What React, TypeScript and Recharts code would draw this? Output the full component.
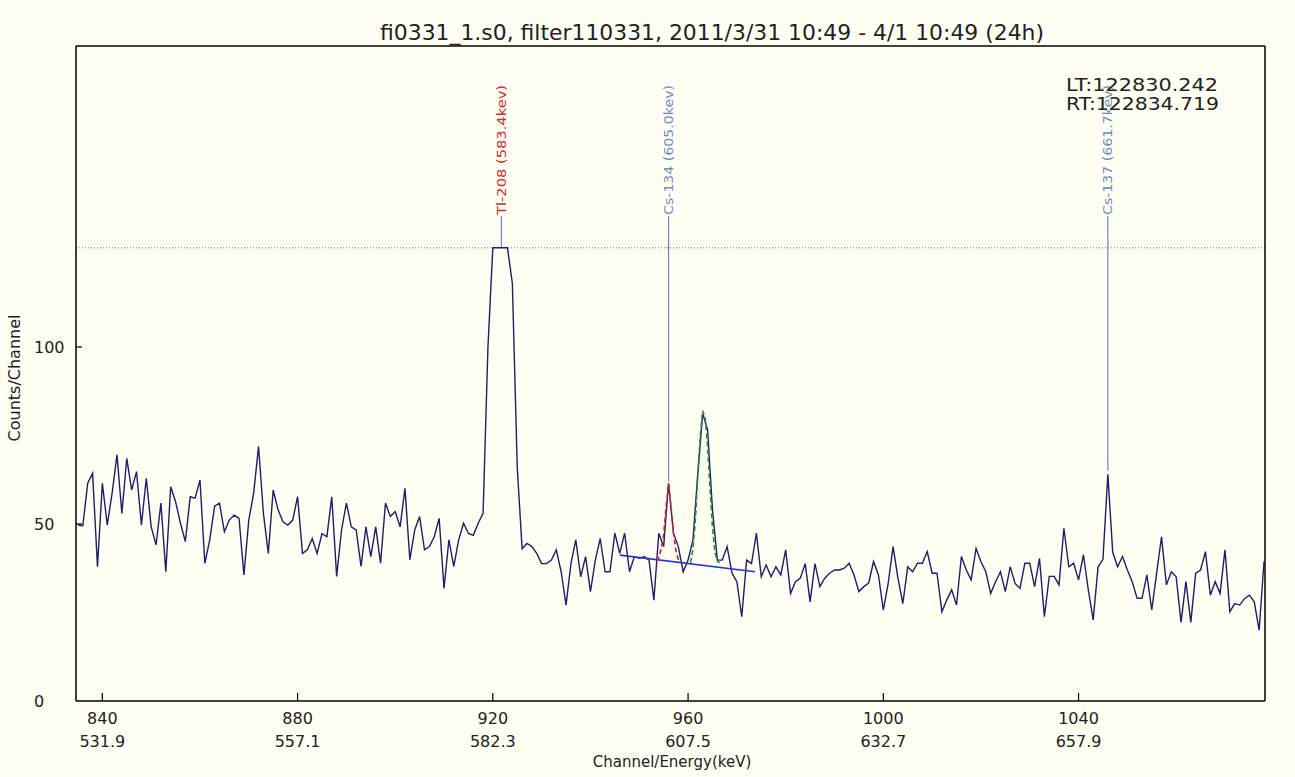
import { LineChart, Line, XAxis, YAxis, ReferenceLine, ReferenceDot } from 'recharts'

// spectrum counts per channel, starting at channel 835
const startChannel = 835
const counts = [
  49.7, 49.5, 61.5, 64.3, 37.9, 61.5, 49.7, 58.7, 69.5, 53.0,
  68.5, 59.6, 64.8, 49.7, 62.9, 49.2, 44.1, 55.9, 36.5, 60.5,
  56.3, 50.2, 45.0, 57.7, 57.3, 62.4, 38.9, 45.5, 55.0, 55.9,
  47.8, 51.1, 52.5, 51.6, 35.6, 51.1, 58.7, 71.9, 53.0, 41.7,
  59.6, 54.0, 50.6, 49.7, 51.1, 57.7, 41.7, 42.7, 45.9, 41.7,
  47.3, 46.4, 57.7, 35.2, 48.3, 55.9, 49.2, 48.3, 38.0, 49.2,
  40.8, 49.2, 38.9, 55.9, 52.1, 53.5, 49.2, 60.1, 39.9, 48.3,
  52.1, 42.7, 43.6, 46.4, 51.6, 31.8, 45.5, 38.0, 45.5, 50.2,
  47.3, 46.8, 50.2, 53.0, 100, 128, 128, 128, 128, 118,
  66, 43, 44.5, 43.6, 41.7, 38.8, 38.8, 39.8, 42.7, 36.5,
  27.1, 38.8, 45.5, 35.1, 40.8, 30.9, 39.8, 45.9, 36.5, 36.5,
  47.4, 41.7, 47.4, 36.5, 40.8, 40.3, 40.8, 39.8, 28.5, 47.4,
  43.6, 61.5, 47.4, 43.6, 36.5, 39.8, 45.5, 64.3, 81.2, 76.6,
  54.0, 39.8, 39.8, 43.6, 36.1, 33.7, 23.8, 39.8, 38.8, 47.4,
  35.1, 38.4, 35.1, 37.9, 35.6, 42.7, 30.4, 33.7, 34.7, 38.8,
  28.0, 38.8, 32.3, 34.7, 36.1, 37.0, 37.0, 37.5, 38.9, 35.6,
  30.9, 32.3, 33.3, 39.4, 35.6, 25.7, 33.2, 43.6, 34.7, 27.5,
  37.9, 36.5, 38.9, 38.9, 42.2, 36.1, 36.1, 25.2, 28.5, 31.4,
  27.1, 40.8, 37.0, 34.2, 43.1, 39.4, 36.5, 30.4, 33.7, 36.5,
  30.9, 37.9, 33.2, 31.8, 38.9, 38.9, 32.3, 40.3, 23.8, 35.2,
  35.2, 32.8, 48.8, 37.9, 38.9, 34.2, 41.3, 31.4, 22.9, 37.9,
  40.0, 64.0, 42.0, 37.9, 40.8, 37.0, 33.7, 29.0, 29.0, 35.6,
  25.7, 36.1, 46.4, 32.8, 36.5, 35.1, 22.2, 33.7, 22.2, 36.1,
  37.0, 42.2, 29.9, 33.7, 30.4, 42.7, 25.2, 27.5, 27.1, 28.9,
  29.9, 28.0, 20.0, 39.4,
]

// fitted peaks + peak baseline
const redFitChannels = [953.5, 954, 954.5, 955, 955.5, 956, 956.5, 957, 957.5, 958, 958.5]
const redFitCounts = [39.5, 40.5, 43, 47, 55, 61.5, 55, 47.5, 42.5, 40, 39.2]
const greenFitChannels = [960.5, 961, 961.5, 962, 962.5, 963, 963.5, 964, 964.5, 965, 965.5, 966, 966.5]
const greenFitCounts = [39, 43, 51, 64, 75, 82, 80, 72, 60, 49, 42, 39.5, 39]
const baselineChannels = [946, 973.7]
const baselineCounts = [41.2, 36.5]

// nuclide markers
const markerNames = ['Tl-208 (583.4kev)', 'Cs-134 (605.0kev)', 'Cs-137 (661.7kev)']
const markerChannels = [921.75, 956.0, 1046.0]
const markerPeaks = [128, 62, 65]
const markerColors = ['#d42a2a', '#6b8cc4', '#6b8cc4']
const markerTop = 137

const xTicks = [840, 880, 920, 960, 1000, 1040]
const xTickEnergies = ['531.9', '557.1', '582.3', '607.5', '632.7', '657.9']
const yTicks = [0, 50, 100]
const clipLevel = 128

const spectrum = counts.map((c, i) => ({ ch: startChannel + i, counts: c }))
const redFit = redFitChannels.map((ch, i) => ({ ch, counts: redFitCounts[i] }))
const greenFit = greenFitChannels.map((ch, i) => ({ ch, counts: greenFitCounts[i] }))
const baseline = baselineChannels.map((ch, i) => ({ ch, counts: baselineCounts[i] }))

const ink = '#222'

const BottomTick = ({ x, y, payload }: any) => {
  const i = xTicks.indexOf(payload.value)
  return (
    <g>
      <line x1={x} x2={x} y1={y} y2={y - 8} stroke="#000" strokeWidth={1.2} />
      <text x={x} y={y + 23} textAnchor="middle" fontSize={16} fill={ink}>{payload.value}</text>
      <text x={x} y={y + 46} textAnchor="middle" fontSize={16} fill={ink}>{xTickEnergies[i]}</text>
    </g>
  )
}

const LeftTick = ({ x, y, payload }: any) => (
  <g>
    {payload.value > 0 && <line x1={x} x2={x + 6} y1={y} y2={y} stroke="#000" strokeWidth={1.2} />}
    <text x={34} y={y + 6} textAnchor="start" fontSize={16} fill={ink}>{payload.value}</text>
  </g>
)

const RightTick = ({ x, y }: any) => (
  <line x1={x - 6} x2={x + 5} y1={y} y2={y} stroke="#000" strokeWidth={1.2} />
)

const markerLabel = (i: number) => (props: any) => (
  <text
    x={props.cx}
    y={props.cy - 1}
    transform={`rotate(-90, ${props.cx}, ${props.cy - 1})`}
    dy="0.35em"
    fontSize={12}
    textLength={130}
    lengthAdjust="spacingAndGlyphs"
    fill={markerColors[i]}
  >
    {markerNames[i]}
  </text>
)

export default function App() {
  return (
    <div style={{ position: 'absolute', left: 0, top: 0, width: 1295, height: 777, background: '#fefef3', fontFamily: 'DejaVu Sans' }}>
      <LineChart width={1295} height={777} data={spectrum} margin={{ top: 0, right: 0, bottom: 0, left: 0 }}>
        <XAxis
          dataKey="ch"
          type="number"
          domain={[834.6, 1078.2]}
          allowDataOverflow
          ticks={xTicks}
          height={76}
          tickSize={0}
          tickMargin={0}
          tickLine={false}
          tick={<BottomTick />}
          axisLine={{ stroke: '#000', strokeWidth: 1.5 }}
        />
        <XAxis
          xAxisId="top"
          orientation="top"
          dataKey="ch"
          type="number"
          domain={[834.6, 1078.2]}
          height={46}
          tick={false}
          tickLine={false}
          axisLine={{ stroke: '#000', strokeWidth: 1.5 }}
        />
        <YAxis
          type="number"
          domain={[0, 185]}
          ticks={yTicks}
          width={76}
          tickSize={0}
          tickMargin={0}
          tickLine={false}
          tick={<LeftTick />}
          axisLine={{ stroke: '#000', strokeWidth: 1.5 }}
        />
        <YAxis
          yAxisId="right"
          orientation="right"
          type="number"
          domain={[0, 185]}
          ticks={[50, 100]}
          width={30}
          tickSize={0}
          tickMargin={0}
          tickLine={false}
          tick={<RightTick />}
          axisLine={{ stroke: '#000', strokeWidth: 1.5 }}
        />

        <ReferenceLine y={clipLevel} stroke="#777" strokeDasharray="1 2" />

        {markerChannels.map((ch, i) => (
          <ReferenceLine
            key={`ml-${i}`}
            segment={[{ x: ch, y: markerPeaks[i] }, { x: ch, y: markerTop }]}
            stroke="#7a7ad4"
            strokeWidth={1.2}
          />
        ))}

        <Line data={spectrum} dataKey="counts" type="linear" stroke="#1e1e6e" strokeWidth={1.4} dot={false} isAnimationActive={false} />
        <Line data={baseline} dataKey="counts" type="linear" stroke="#2436d0" strokeWidth={1.6} dot={false} isAnimationActive={false} />
        <Line data={redFit} dataKey="counts" type="linear" stroke="#d0281e" strokeWidth={1.6} strokeDasharray="5 3" dot={false} isAnimationActive={false} />
        <Line data={greenFit} dataKey="counts" type="linear" stroke="#2a8c2a" strokeWidth={1.6} strokeDasharray="5 3" dot={false} isAnimationActive={false} />

        {markerChannels.map((ch, i) => (
          <ReferenceDot key={`mt-${i}`} x={ch} y={markerTop} r={0} shape={markerLabel(i)} />
        ))}
      </LineChart>

      <svg width={1295} height={777} style={{ position: 'absolute', left: 0, top: 0, pointerEvents: 'none' }}>
        <text x={712} y={40} textAnchor="middle" fontSize={22} textLength={664} lengthAdjust="spacingAndGlyphs" fill={ink}>
          fi0331_1.s0, filter110331, 2011/3/31 10:49 - 4/1 10:49 (24h)
        </text>
        <text x={1066} y={91} fontSize={18} textLength={152} lengthAdjust="spacingAndGlyphs" fill={ink}>LT:122830.242</text>
        <text x={1066} y={110} fontSize={18} textLength={153} lengthAdjust="spacingAndGlyphs" fill={ink}>RT:122834.719</text>
        <text x={672} y={767} textAnchor="middle" fontSize={15} fill={ink}>Channel/Energy(keV)</text>
        <text x={20} y={378} textAnchor="middle" fontSize={16} fill={ink} transform="rotate(-90, 20, 378)">Counts/Channel</text>
      </svg>
    </div>
  )
}
